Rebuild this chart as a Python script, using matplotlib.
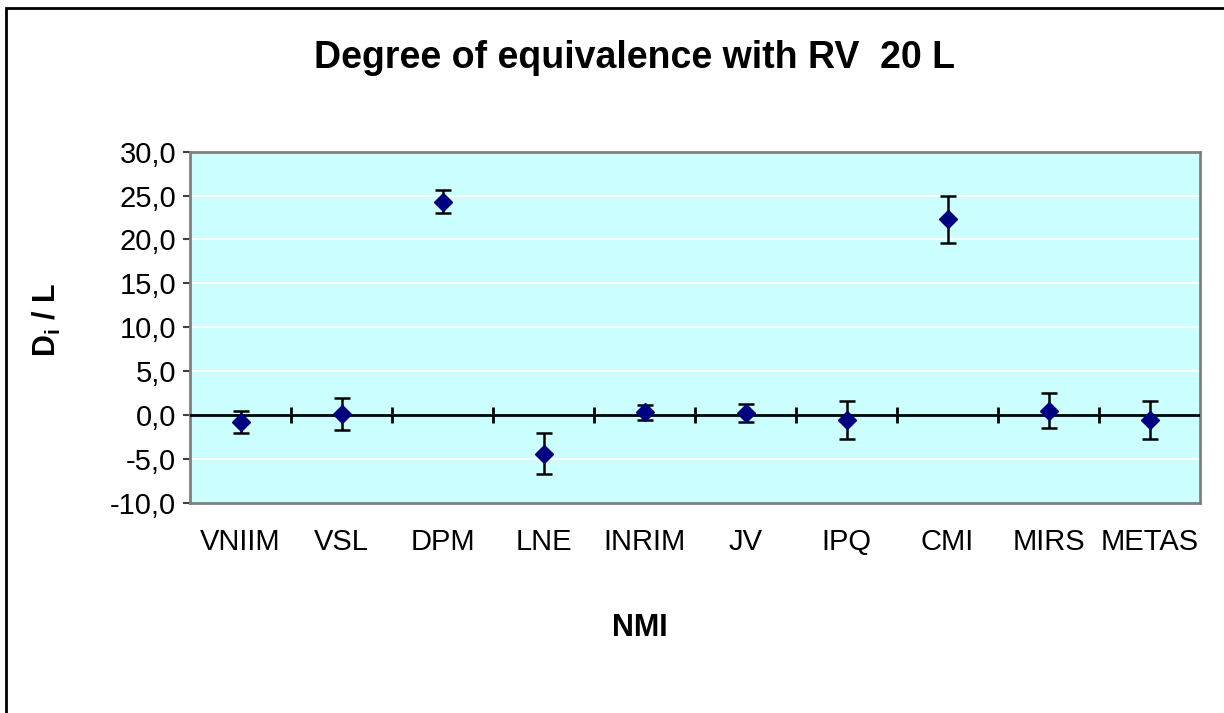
import matplotlib
matplotlib.use("Agg")
import matplotlib.pyplot as plt
from matplotlib.ticker import FuncFormatter, FixedLocator
from matplotlib.patches import Rectangle

plt.rcParams['font.family'] = ['Liberation Sans', 'DejaVu Sans']

categories = ["VNIIM", "VSL", "DPM", "LNE", "INRIM", "JV", "IPQ", "CMI", "MIRS", "METAS"]
values = [-0.8, 0.1, 24.3, -4.4, 0.3, 0.2, -0.6, 22.3, 0.5, -0.6]
errors = [1.25, 1.8, 1.3, 2.3, 0.85, 1.0, 2.15, 2.7, 2.0, 2.15]
y_ticks = [-10, -5, 0, 5, 10, 15, 20, 25, 30]

W, H = 1224, 713
fig = plt.figure(figsize=(W / 100, H / 100), dpi=100)
fig.patches.append(Rectangle((6 / W, -0.1), 1.2, (713 - 8) / H + 0.1, transform=fig.transFigure,
                             fill=False, edgecolor='black', linewidth=2))

ax = fig.add_axes([190 / W, (713 - 502.7) / H, (1200 - 190) / W, (502.7 - 151.7) / H])
ax.set_facecolor('#CCFFFF')
x = list(range(len(categories)))
ax.set_xlim(-0.5, len(categories) - 0.5)
ax.set_ylim(y_ticks[0], y_ticks[-1])

ax.yaxis.set_major_locator(FixedLocator(y_ticks))
ax.yaxis.set_major_formatter(FuncFormatter(lambda v, p: f"{v:.1f}".replace('.', ',')))
ax.grid(axis='y', color='white', linewidth=1.5)
ax.set_axisbelow(True)

for s in ax.spines.values():
    s.set_color('#808080')
    s.set_linewidth(2)

ax.tick_params(axis='y', direction='out', length=5, width=1.5, color='#404040', labelsize=21, pad=5)
ax.set_xticks(x)
ax.set_xticklabels(categories)
ax.tick_params(axis='x', length=0, labelsize=21, pad=18)

# zero axis with crossing tick marks at category boundaries
ax.axhline(0, color='black', linewidth=2, zorder=3)
ylo, yhi = ax.get_ylim()
zero_frac = (0 - ylo) / (yhi - ylo)
sec = ax.secondary_xaxis(zero_frac)
for s in sec.spines.values():
    s.set_visible(False)
sec.set_xticks([i + 0.5 for i in x[:-1]])
sec.tick_params(axis='x', direction='inout', length=12, width=2, color='black', labelbottom=False)

ax.errorbar(x, values, yerr=errors, fmt='D', color='#000080', markersize=9,
            ecolor='black', elinewidth=1.8, capsize=6, capthick=1.8, zorder=5)

fig.text(634 / W, 1 - 58 / H, "Degree of equivalence with RV  20 L",
         ha='center', va='center', fontsize=27, fontweight='bold')
fig.text(47 / W, 1 - 320 / H, "D$_\\mathregular{i}$ / L", rotation=90,
         ha='center', va='center', fontsize=22, fontweight='bold')
fig.text(640 / W, 1 - 628 / H, "NMI", ha='center', va='center', fontsize=22, fontweight='bold')

fig.savefig("out.png", dpi=100)
